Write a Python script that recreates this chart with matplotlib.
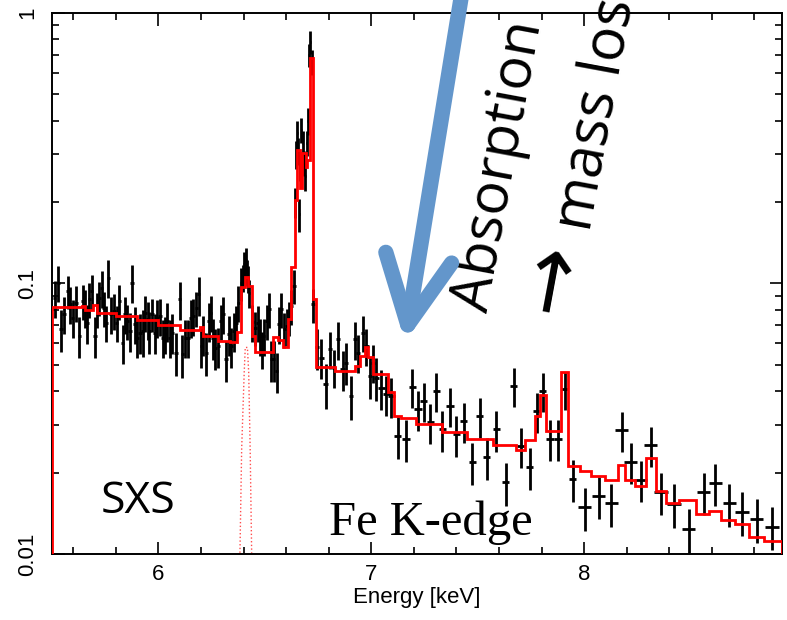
import matplotlib
matplotlib.use("Agg")
import matplotlib.pyplot as plt
from matplotlib.ticker import MultipleLocator, NullFormatter
from matplotlib.patches import FancyArrowPatch

# === DATOS: espectro SXS (counts/s/keV) ===
# continuo con bins finos (5.5 - 6.64 keV)
e_fine = [5.512, 5.530, 5.542, 5.556, 5.574, 5.585, 5.597, 5.613, 5.628, 5.644,
          5.655, 5.666, 5.675, 5.686, 5.702, 5.713, 5.722, 5.733, 5.744, 5.753,
          5.764, 5.777, 5.791, 5.804, 5.816, 5.832, 5.843, 5.854, 5.866, 5.876,
          5.890, 5.901, 5.913, 5.926, 5.937, 5.949,
          5.958, 5.969, 5.982, 5.994, 6.007, 6.021, 6.032, 6.041, 6.054, 6.066,
          6.082, 6.099, 6.112, 6.126, 6.138, 6.151, 6.164, 6.178, 6.189, 6.201,
          6.210, 6.225, 6.236, 6.245, 6.256, 6.268, 6.281, 6.292, 6.304, 6.318,
          6.331, 6.342, 6.354, 6.365, 6.376, 6.389,
          6.441, 6.453, 6.466, 6.477, 6.487, 6.495, 6.508, 6.519, 6.531, 6.542,
          6.555, 6.567, 6.578, 6.591, 6.602, 6.613, 6.625, 6.636]
f_fine = [0.0885, 0.1006, 0.0676, 0.0769, 0.0937, 0.0837, 0.0747, 0.0848, 0.0639, 0.0861,
          0.0813, 0.0716, 0.0873, 0.0937, 0.0639, 0.0802, 0.0885, 0.0964, 0.0813, 0.0716,
          0.105, 0.0769, 0.0791, 0.0716, 0.0861, 0.0604, 0.0769, 0.0726, 0.0667, 0.1006,
          0.0706, 0.0631, 0.0658, 0.0667, 0.078, 0.0736,
          0.0667, 0.0769, 0.0658, 0.0747, 0.0757, 0.0631, 0.0649, 0.0726, 0.0631, 0.0658,
          0.0555, 0.0873, 0.0547, 0.0631, 0.0631, 0.0747, 0.0757, 0.0813, 0.0911, 0.0587,
          0.0649, 0.0555, 0.0726, 0.078, 0.0631, 0.0579, 0.0587, 0.0726, 0.0769, 0.0524,
          0.0649, 0.0587, 0.0667, 0.0716, 0.085, 0.100,
          0.072, 0.0686, 0.0716, 0.0639, 0.0571, 0.0639, 0.0726, 0.0802, 0.0524, 0.0524,
          0.0475, 0.0706, 0.0802, 0.0677, 0.0696, 0.0747, 0.0825, 0.0978]
err_fine = [0.014, 0.015, 0.012, 0.012, 0.013, 0.013, 0.012, 0.013, 0.011, 0.013,
            0.013, 0.012, 0.013, 0.014, 0.011, 0.012, 0.013, 0.015, 0.012, 0.011,
            0.017, 0.012, 0.012, 0.011, 0.013, 0.010, 0.012, 0.011, 0.011, 0.016,
            0.011, 0.010, 0.011, 0.013, 0.012, 0.012,
            0.012, 0.011, 0.011, 0.012, 0.012, 0.010, 0.010, 0.012, 0.010, 0.011,
            0.010, 0.014, 0.010, 0.010, 0.010, 0.012, 0.012, 0.012, 0.015, 0.010,
            0.011, 0.010, 0.012, 0.012, 0.011, 0.010, 0.010, 0.011, 0.012, 0.009,
            0.011, 0.010, 0.011, 0.011, 0.013, 0.014,
            0.011, 0.010, 0.011, 0.010, 0.009, 0.010, 0.011, 0.012, 0.009, 0.009,
            0.008, 0.011, 0.012, 0.010, 0.011, 0.011, 0.012, 0.014]

# lineas de Fe (6.4 keV y Fe XXV 6.7 keV), bins muy finos
e_line = [6.396, 6.401, 6.406, 6.411, 6.416, 6.421, 6.427,
          6.642, 6.647, 6.652, 6.657, 6.662, 6.667, 6.672, 6.678, 6.684, 6.690,
          6.696, 6.702, 6.708, 6.714, 6.720]
f_line = [0.105, 0.118, 0.112, 0.122, 0.110, 0.104, 0.092,
          0.20, 0.30, 0.36, 0.31, 0.18, 0.27, 0.37, 0.33, 0.28, 0.25,
          0.33, 0.40, 0.70, 0.78, 0.66]
err_line = [0.012, 0.013, 0.012, 0.013, 0.012, 0.012, 0.011,
            0.025, 0.035, 0.04, 0.035, 0.025, 0.03, 0.04, 0.035, 0.03, 0.03,
            0.035, 0.045, 0.07, 0.075, 0.07]

# despues del pico principal
e_mid = [6.727, 6.746, 6.766, 6.785, 6.805, 6.824, 6.844, 6.865, 6.883, 6.904,
         6.922, 6.938, 6.962, 6.977, 6.993, 7.009, 7.024]
f_mid = [0.0837, 0.058, 0.0532, 0.0424, 0.0571, 0.0489, 0.0621, 0.0482, 0.051, 0.0384,
         0.0621, 0.0555, 0.0658, 0.0587, 0.0455, 0.051, 0.0449]
err_mid = [0.012, 0.010, 0.009, 0.008, 0.009, 0.008, 0.010, 0.008, 0.009, 0.007,
           0.010, 0.009, 0.010, 0.009, 0.008, 0.008, 0.008]

# bins anchos 7.05 - 7.95 keV
e_wide = [7.048, 7.071, 7.095, 7.124, 7.162, 7.193, 7.218, 7.246, 7.278, 7.306,
          7.334, 7.369, 7.400, 7.434, 7.475, 7.509, 7.542, 7.588, 7.631, 7.669,
          7.705, 7.744, 7.777, 7.805, 7.841, 7.876, 7.908, 7.946]
f_wide = [0.041, 0.039, 0.0383, 0.0272, 0.0266, 0.0413, 0.0343, 0.0367, 0.0307, 0.040,
          0.0289, 0.0352, 0.0277, 0.031, 0.0219, 0.0323, 0.0228, 0.0289, 0.0184, 0.0417,
          0.025, 0.0209, 0.0337, 0.040, 0.0266, 0.0266, 0.0406, 0.0189]
err_wide = [0.007, 0.0065, 0.0065, 0.0048, 0.0047, 0.0068, 0.0058, 0.006, 0.0052, 0.0066,
            0.005, 0.0058, 0.0048, 0.0053, 0.0039, 0.0054, 0.004, 0.005, 0.0033, 0.0068,
            0.0043, 0.0037, 0.0056, 0.0065, 0.0046, 0.0046, 0.0066, 0.0034]

# bins mas anchos > 8 keV
e_high = [8.002, 8.068, 8.128, 8.176, 8.218, 8.265, 8.312, 8.362, 8.422, 8.491,
          8.561, 8.617, 8.683, 8.743, 8.810, 8.884]
f_high = [0.0149, 0.0164, 0.0154, 0.0287, 0.0219, 0.0188, 0.0252, 0.0169, 0.0153, 0.0124,
          0.0169, 0.0183, 0.0154, 0.0143, 0.0135, 0.0126]
err_high = [0.0027, 0.0029, 0.0028, 0.0048, 0.0038, 0.0033, 0.0043, 0.003, 0.0028, 0.0023,
            0.003, 0.0032, 0.0028, 0.0026, 0.0025, 0.0023]

# semi-ancho de bin de cada grupo (keV)
hw_fine, hw_line, hw_mid, hw_wide, hw_high = 0.008, 0.003, 0.010, 0.018, 0.032

# === MODELO (histograma) ===
model_edges = [5.50, 5.639, 5.655, 5.694, 5.710, 5.80, 5.90, 6.00, 6.10, 6.195,
               6.209, 6.28, 6.336, 6.367, 6.390, 6.406, 6.422, 6.438, 6.453, 6.539,
               6.562, 6.585, 6.609, 6.625, 6.641, 6.650, 6.664, 6.675, 6.691, 6.700,
               6.711, 6.727, 6.739, 6.83, 6.923, 6.946, 6.969, 6.985, 7.008, 7.079,
               7.106, 7.142, 7.212, 7.33, 7.45, 7.57, 7.682, 7.721, 7.768, 7.791,
               7.819, 7.893, 7.924, 7.979, 8.034, 8.096, 8.159, 8.190, 8.237, 8.292,
               8.336, 8.386, 8.448, 8.527, 8.589, 8.644, 8.707, 8.777, 8.847, 8.93]
model_vals = [0.0815, 0.0825, 0.0800, 0.0835, 0.0778, 0.0755, 0.0730, 0.0700, 0.0672,
              0.0690, 0.0640, 0.0615, 0.0606, 0.0660, 0.0970, 0.1060, 0.0975, 0.0637, 0.0560,
              0.0632, 0.0620, 0.0581, 0.0736, 0.1146, 0.204, 0.312, 0.226, 0.304, 0.270,
              0.287, 0.680, 0.0873, 0.0492, 0.0475, 0.0494, 0.0538, 0.0581, 0.0533, 0.0462,
              0.0396, 0.0323, 0.0318, 0.0302, 0.0283, 0.0265, 0.0253, 0.0242, 0.0263, 0.0323,
              0.0386, 0.0285, 0.0469, 0.0211, 0.0202, 0.0194, 0.0188, 0.0213, 0.0188, 0.0178,
              0.0226, 0.0171, 0.0154, 0.0158, 0.0141, 0.0144, 0.0133, 0.0129, 0.0116, 0.0112]

# componente de la linea 6.4 keV (punteada)
comp_e = [6.383, 6.391, 6.403, 6.408, 6.418, 6.424, 6.431, 6.438]
comp_f = [0.0101, 0.0244, 0.047, 0.058, 0.058, 0.047, 0.0244, 0.0101]

# === FIGURA ===
plt.rcParams['font.family'] = ['Liberation Sans', 'DejaVu Sans']
fig = plt.figure(figsize=(7.87, 6.2), dpi=100)
ax = fig.add_axes([0.0661, 0.1065, 0.9276, 0.8726])

groups = [(e_fine, f_fine, err_fine, hw_fine),
          (e_line, f_line, err_line, hw_line),
          (e_mid, f_mid, err_mid, hw_mid),
          (e_wide, f_wide, err_wide, hw_wide),
          (e_high, f_high, err_high, hw_high)]
for e, f, err, hw in groups:
    ax.errorbar(e, f, xerr=hw, yerr=err, fmt='none', ecolor='black',
                elinewidth=2.0, capsize=0, zorder=2)

ax.stairs(model_vals, model_edges, color='red', lw=2.0, zorder=3)
ax.plot(comp_e, comp_f, ls=':', color='red', lw=1.0, alpha=0.7, zorder=1)

ax.set_yscale('log')
ax.set_xlim(5.5, 8.93)
ax.set_ylim(0.01, 1)
ax.xaxis.set_major_locator(MultipleLocator(1))
ax.xaxis.set_minor_locator(MultipleLocator(0.2))
ax.set_yticks([0.01, 0.1, 1], ['0.01', '0.1', '1'])
ax.yaxis.set_minor_formatter(NullFormatter())
ax.tick_params(which='both', direction='in', top=True, right=True, width=1.2)
ax.tick_params(which='major', length=9)
ax.tick_params(which='minor', length=5)
ax.tick_params(axis='x', labelsize=16, pad=7)
ax.tick_params(axis='y', labelsize=16, pad=10)
for lab in ax.get_yticklabels():
    lab.set_rotation(90)
    lab.set_va('center')
for sp in ax.spines.values():
    sp.set_linewidth(1.4)
ax.set_xlabel('Energy [keV]', fontsize=16, labelpad=2)

# textos
fig.text(0.1753, 0.1726, 'SXS', fontsize=32, family='Open Sans',
         ha='center', va='baseline')
fig.text(0.547, 0.1371, 'Fe K-edge', fontsize=35, family='Liberation Serif',
         ha='center', va='baseline')
fig.text(0.6194, 0.4952, 'Absorption', fontsize=41, family='Open Sans',
         rotation=79.5, rotation_mode='anchor', ha='left', va='baseline')
fig.text(0.700, 0.552, '\u2192', fontsize=60, family='DejaVu Sans',
         rotation=79.5, rotation_mode='anchor', ha='center', va='center')
fig.text(0.7497, 0.6242, 'mass loss', fontsize=42, family='Open Sans',
         rotation=79.5, rotation_mode='anchor', ha='left', va='baseline')

# flecha azul
arrow = FancyArrowPatch((0.588, 1.02), (0.5146, 0.4484), transform=fig.transFigure,
                        arrowstyle='->,head_length=4.9,head_width=2.4',
                        mutation_scale=10, lw=11, color='#6396CB',
                        capstyle='round', joinstyle='round',
                        shrinkA=0, shrinkB=0, zorder=5)
fig.add_artist(arrow)

fig.savefig('out.png', dpi=100)
